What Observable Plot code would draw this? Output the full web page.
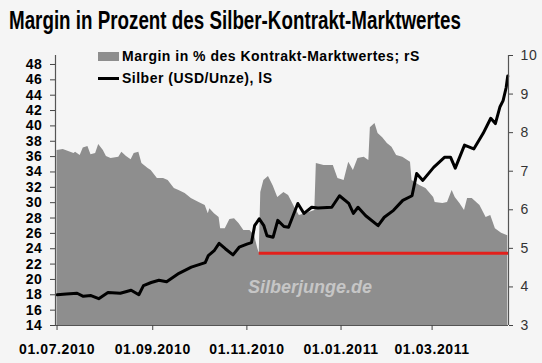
<!DOCTYPE html>
<html>
<head>
<meta charset="utf-8">
<script src="https://cdn.jsdelivr.net/npm/d3@7"></script>
<script src="https://cdn.jsdelivr.net/npm/@observablehq/plot@0.6"></script>
<style>
  html, body { margin: 0; padding: 0; background: #f5f5f5; }
  #chart { position: relative; width: 542px; height: 363px; background: #f5f5f5; overflow: hidden; }
  #title { position: absolute; left: 9px; top: 5px; font: bold 25px "Liberation Sans", Arial, sans-serif; color: #000; white-space: nowrap; line-height: 30px; transform-origin: 0 0; }
  #plot { position: absolute; left: 0; top: 38px; }
  .leg { position: absolute; font: bold 14px "Liberation Sans", Arial, sans-serif; letter-spacing: 0.5px; color: #000; line-height: 16px; white-space: nowrap; }
  #plot svg g[aria-label="x-axis tick label"] text,
  #plot svg g[aria-label="y-axis tick label"] text { letter-spacing: 0.6px; }
</style>
</head>
<body>
<div id="chart">
  <div id="title">Margin in Prozent des Silber-Kontrakt-Marktwertes</div>
  <div id="plot"></div>
  <div style="position:absolute;left:98px;top:52px;width:21px;height:9px;background:#8e8e8e"></div>
  <div class="leg" style="left:122px;top:48px">Margin in % des Kontrakt-Marktwertes; rS</div>
  <div style="position:absolute;left:98px;top:77px;width:21px;height:3px;background:#000"></div>
  <div class="leg" style="left:122px;top:70px">Silber (USD/Unze), lS</div>
</div>
<script>
// ---- data ----
const silverDates = ["2010-07-01","2010-07-07","2010-07-14","2010-07-18","2010-07-23","2010-07-28","2010-08-03","2010-08-11","2010-08-18","2010-08-23","2010-08-26","2010-08-31","2010-09-05","2010-09-10","2010-09-18","2010-09-26","2010-10-05","2010-10-07","2010-10-11","2010-10-14","2010-10-18","2010-10-23","2010-10-27","2010-11-01","2010-11-04","2010-11-06","2010-11-09","2010-11-12","2010-11-14","2010-11-18","2010-11-21","2010-11-25","2010-11-28","2010-12-04","2010-12-08","2010-12-13","2010-12-17","2010-12-26","2010-12-31","2011-01-06","2011-01-09","2011-01-12","2011-01-17","2011-01-25","2011-01-29","2011-02-04","2011-02-10","2011-02-16","2011-02-19","2011-02-23","2011-03-02","2011-03-09","2011-03-13","2011-03-16","2011-03-22","2011-03-28","2011-04-03","2011-04-08","2011-04-11","2011-04-14","2011-04-16","2011-04-18","2011-04-19"];
const silverValues = [18.0,18.1,18.2,17.8,17.9,17.5,18.3,18.2,18.6,18.0,19.2,19.6,19.9,19.7,20.8,21.6,22.2,23.1,23.8,24.7,24.0,23.2,24.2,24.6,24.8,27.0,27.9,27.0,25.7,25.5,27.7,26.9,26.8,29.9,28.6,29.4,29.3,29.4,30.9,29.9,28.6,29.4,28.3,27.0,28.1,29.0,30.3,30.9,33.8,32.9,34.6,35.9,35.9,34.5,37.5,37.0,39.0,41.0,40.3,42.5,43.3,45.0,46.5];

const marginDates = ["2010-07-01","2010-07-05","2010-07-12","2010-07-13","2010-07-16","2010-07-18","2010-07-21","2010-07-23","2010-07-26","2010-07-28","2010-07-31","2010-08-02","2010-08-05","2010-08-10","2010-08-12","2010-08-15","2010-08-18","2010-08-20","2010-08-23","2010-08-25","2010-08-29","2010-08-31","2010-09-04","2010-09-08","2010-09-11","2010-09-15","2010-09-18","2010-09-22","2010-09-26","2010-10-01","2010-10-05","2010-10-07","2010-10-08","2010-10-11","2010-10-14","2010-10-15","2010-10-18","2010-10-21","2010-10-24","2010-10-27","2010-10-30","2010-11-03","2010-11-06","2010-11-08","2010-11-09","2010-11-10","2010-11-12","2010-11-15","2010-11-18","2010-11-21","2010-11-25","2010-11-28","2010-12-02","2010-12-05","2010-12-09","2010-12-15","2010-12-16","2010-12-21","2010-12-27","2010-12-30","2011-01-03","2011-01-06","2011-01-09","2011-01-12","2011-01-16","2011-01-19","2011-01-20","2011-01-23","2011-01-25","2011-01-28","2011-01-31","2011-02-03","2011-02-06","2011-02-10","2011-02-15","2011-02-16","2011-02-18","2011-02-21","2011-02-25","2011-03-02","2011-03-03","2011-03-08","2011-03-11","2011-03-14","2011-03-16","2011-03-19","2011-03-22","2011-03-24","2011-03-27","2011-04-01","2011-04-05","2011-04-08","2011-04-11","2011-04-15","2011-04-19"];
const marginValues = [7.54,7.56,7.46,7.49,7.41,7.60,7.64,7.43,7.46,7.69,7.54,7.38,7.33,7.36,7.49,7.38,7.30,7.46,7.49,7.20,7.07,7.02,6.81,6.81,6.76,6.55,6.50,6.42,6.29,6.19,6.11,5.90,6.03,5.90,5.80,5.51,5.51,5.75,5.77,5.64,5.46,5.46,5.33,5.00,4.87,6.45,6.76,6.86,6.62,6.32,6.45,6.37,6.06,5.85,5.90,5.98,7.20,7.15,7.15,6.81,6.76,7.23,7.02,7.33,7.36,7.28,8.13,8.24,7.98,7.87,7.72,7.62,7.41,7.36,7.23,6.76,6.71,6.63,6.55,6.32,6.19,6.16,6.19,6.50,6.32,6.16,5.98,6.29,6.29,6.11,5.80,5.85,5.51,5.39,5.33];

const redLevel = 4.87;              // margin level (right scale)
const redStart = "2010-11-09";
const redEnd = "2011-04-19T12:00";

const leftTicks = d3.range(14, 49, 2);   // 14 ... 48
const rightTicks = d3.range(3, 11);      // 3 ... 10
const xTicks = ["2010-07-01","2010-09-01","2010-11-01","2011-01-01","2011-03-01"];
const xDomain = ["2010-06-30", "2011-04-19T12:00"];
const watermark = "Silberjunge.de";

// fit the title to the reference width (condensed look)
const titleEl = document.getElementById("title");
const titleWidth = 452;
titleEl.style.transform = `scaleX(${titleWidth / titleEl.getBoundingClientRect().width})`;

// ---- scales ----
const L0 = 14, L1 = 49.17, R0 = 3, R1 = 10;
const toLeft = m => L0 + (m - R0) * (L1 - L0) / (R1 - R0);
const fromLeft = v => R0 + (v - L0) * (R1 - R0) / (L1 - L0);

const silver = silverDates.map((d, i) => ({date: new Date(d), v: silverValues[i]}));
const margin = marginDates.map((d, i) => ({date: new Date(d), m: marginValues[i]}));
const red = [{y: toLeft(redLevel), x1: new Date(redStart), x2: new Date(redEnd)}];
const xd = xDomain.map(d => new Date(d));

const chart = Plot.plot({
  width: 542,
  height: 325,
  marginLeft: 55,
  marginRight: 34,
  marginTop: 17,
  marginBottom: 38,
  style: {background: "#f5f5f5", fontFamily: "'Liberation Sans', Arial, sans-serif", color: "#000"},
  x: {type: "utc", domain: xd},
  y: {domain: [L0, L1]},
  marks: [
    Plot.areaY(margin, {x: "date", y1: () => toLeft(R0), y2: d => toLeft(d.m), fill: "#8e8e8e"}),
    Plot.text([watermark], {frameAnchor: "bottom", dx: 28, dy: -33, fontSize: 18, fontWeight: "bold", fontStyle: "italic", fill: "#c6c6c6", text: d => d}),
    Plot.ruleY(red, {y: "y", x1: "x1", x2: "x2", stroke: "#e3201b", strokeWidth: 3}),
    Plot.line(silver, {x: "date", y: "v", stroke: "#000", strokeWidth: 3}),
    Plot.ruleX(xd, {stroke: "#555", strokeWidth: 1.2}),
    Plot.ruleY([L0], {stroke: "#555", strokeWidth: 1.2}),
    Plot.axisY(leftTicks, {anchor: "left", tickSize: 5, tickPadding: 8, fontSize: 14, fontWeight: "bold", stroke: "#444", label: null}),
    Plot.axisY(rightTicks.map(toLeft), {anchor: "right", tickSize: 4, tickPadding: 8, fontSize: 14, fill: "#333", stroke: "#444", tickFormat: d => Math.round(fromLeft(d)), label: null}),
    Plot.axisX(xTicks.map(d => new Date(d)), {tickSize: 5, tickPadding: 14, fontSize: 14, fontWeight: "bold", stroke: "#444", tickFormat: d3.utcFormat("%d.%m.%Y"), label: null})
  ]
});
document.getElementById("plot").appendChild(chart);
</script>
</body>
</html>
